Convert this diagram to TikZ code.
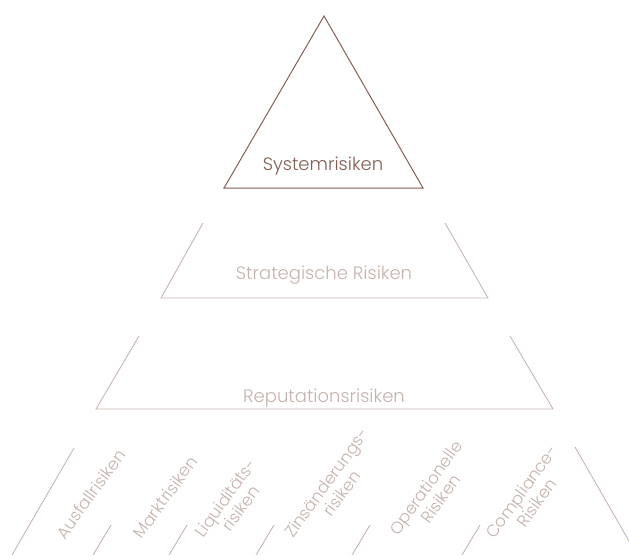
\documentclass[tikz,border=0pt]{standalone}
\usepackage{fontspec}
\setmainfont{Poppins}[UprightFont={* Light}]
\definecolor{riskdark}{HTML}{825E55}
\definecolor{risklight}{HTML}{C4B3AD}

\begin{document}
\begin{tikzpicture}[
        x=0.025cm, y=-0.025cm,
        level_line/.style={draw=risklight, line width=0.6pt},
        top_line/.style={draw=riskdark, line width=0.7pt},
        level_label/.style={text=risklight, font=\fontsize{12.8}{14}\selectfont, inner sep=0pt},
        top_label/.style={text=riskdark, font=\fontsize{12.8}{14}\selectfont, inner sep=0pt},
        base_label/.style={text=risklight, font=\fontsize{11.8}{13}\selectfont, align=center, rotate=54, inner sep=0pt}
    ]
        \useasboundingbox (0,0) rectangle (629,554);

        % Top: triangle
        \coordinate (tri_apex) at (324,16);
        \coordinate (tri_left) at (224,188);
        \coordinate (tri_right) at (423,188);
        \draw[top_line] (tri_apex) -- (tri_right) -- (tri_left) -- cycle;
        \node[top_label] (tri_text) at (323,166) {Systemrisiken};

        % Second level: strategic risks
        \coordinate (strat_tl) at (203,223);
        \coordinate (strat_bl) at (161,298);
        \coordinate (strat_br) at (488,298);
        \coordinate (strat_tr) at (445,223);
        \draw[level_line] (strat_tl) -- (strat_bl) -- (strat_br) -- (strat_tr);
        \node[level_label] (strat_text) at (324,275) {Strategische Risiken};

        % Third level: reputation risks
        \coordinate (rep_tl) at (139,336);
        \coordinate (rep_bl) at (96,409);
        \coordinate (rep_br) at (553,409);
        \coordinate (rep_tr) at (510,336);
        \draw[level_line] (rep_tl) -- (rep_bl) -- (rep_br) -- (rep_tr);
        \node[level_label] (rep_text) at (324,398) {Reputationsrisiken};

        % Base: outer edges and separators
        \coordinate (base_lt) at (74,448);
        \coordinate (base_lb) at (12,555);
        \coordinate (base_rt) at (575,447);
        \coordinate (base_rb) at (637,555);
        \draw[level_line] (base_lt) -- (base_lb);
        \draw[level_line] (base_rt) -- (base_rb);
        \foreach \xt/\xb [count=\i] in {111/93, 187/169, 274/256, 370/352, 480/462} {
            \coordinate (sep\i_top) at (\xt,525);
            \coordinate (sep\i_bot) at (\xb,555);
            \draw[level_line] (sep\i_top) -- (sep\i_bot);
        }

        % Base labels
        \node[base_label] (ausfall) at (91,494) {Ausfallrisiken};
        \node[base_label] (markt) at (165,497) {Marktrisiken};
        \node[base_label] (liquid) at (233,503) {Liquiditäts-\\risiken};
        \node[base_label] (zins) at (334,488) {Zinsänderungs-\\risiken};
        \node[base_label] (oprisk) at (433,493) {Operationelle\\Risiken};
        \node[base_label] (compl) at (529,497) {Compliance-\\Risiken};

    \end{tikzpicture}
\end{document}
